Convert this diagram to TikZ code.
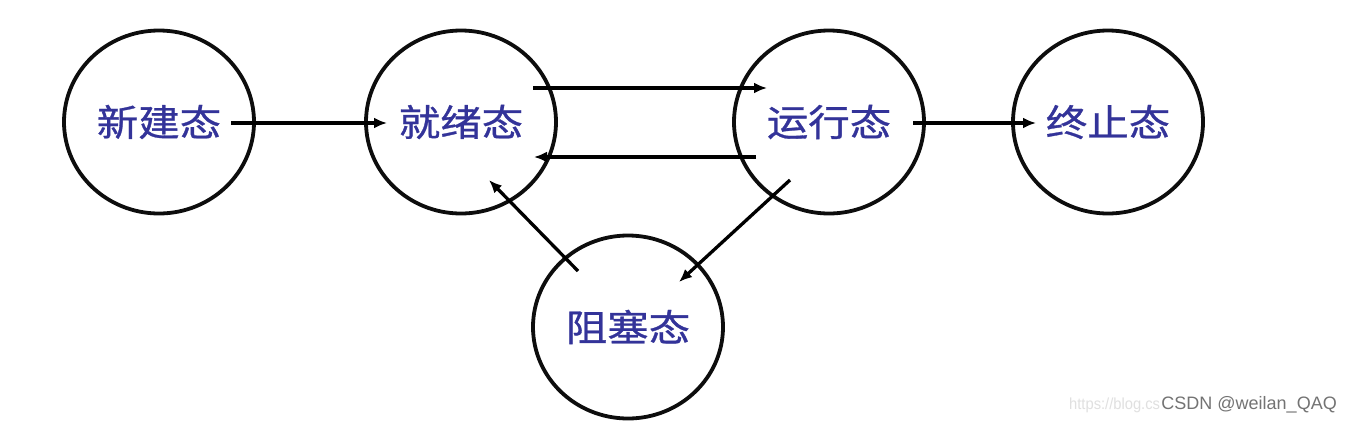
\documentclass[tikz,border=0pt]{standalone}
\usepackage{fontspec}
\newfontfamily\cjk[FakeBold=0.8]{Noto Sans CJK SC}
\setsansfont{Liberation Sans}
\usetikzlibrary{shapes.geometric,arrows.meta}
\definecolor{txtblue}{HTML}{333399}
\tikzset{
  state/.style={ellipse, draw=black!95, line width=3.8pt, minimum width=190pt, minimum height=183pt, inner sep=0pt,
    font=\cjk\fontsize{37pt}{40pt}\selectfont, text=txtblue},
  arr/.style={line width=3.3pt, -{Latex[length=13pt,width=11pt]}}
}
\newcommand{\stxt}[1]{\scalebox{1.12}[1]{#1}}
\begin{document}
\begin{tikzpicture}[x=1pt,y=-1pt]
\useasboundingbox[fill=white] (0,0) rectangle (1350,424);
\node[state] (new)   at (159,122) {\stxt{新建态}};
\node[state] (ready) at (461,122) {\stxt{就绪态}};
\node[state] (run)   at (829,122) {\stxt{运行态}};
\node[state] (term)  at (1108,122) {\stxt{终止态}};
\node[state] (block) at (628,327) {\stxt{阻塞态}};
\draw[arr] ([xshift=72pt,yshift=-1pt]new.center) -- ([xshift=-74pt,yshift=-1pt]ready.center);
\draw[arr] ([xshift=72pt,yshift=34pt]ready.center) -- ([xshift=-62pt,yshift=34pt]run.center);
\draw[arr] ([xshift=-73pt,yshift=-35pt]run.center) -- ([xshift=73pt,yshift=-35pt]ready.center);
\draw[arr] ([xshift=-50pt,yshift=56pt]block.center) -- ([xshift=28pt,yshift=-58pt]ready.center);
\draw[arr] ([xshift=-39pt,yshift=-58pt]run.center) -- ([xshift=51pt,yshift=45pt]block.center);
\draw[arr] ([xshift=84pt,yshift=-1pt]run.center) -- ([xshift=-72pt,yshift=-1pt]term.center);
\node[anchor=west, text=black!12, font=\sffamily\fontsize{16pt}{18pt}\selectfont, inner sep=0pt] (url) at (1069,405) {\scalebox{0.92}[1]{https://blog.cs}};
\node[anchor=east, text=black!55, font=\sffamily\fontsize{18pt}{20pt}\selectfont, inner sep=0pt] (wm) at (1337,405) {CSDN @weilan\_QAQ};
\end{tikzpicture}
\end{document}
